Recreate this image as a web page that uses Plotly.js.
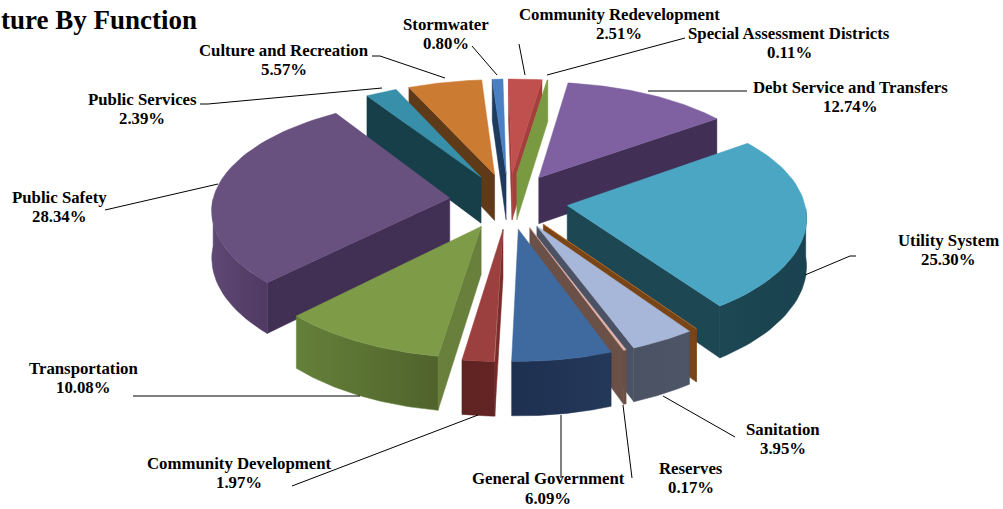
<!DOCTYPE html>
<html>
<head>
<meta charset="utf-8">
<script src="https://cdn.plot.ly/plotly-3.0.1.min.js"></script>
<style>html,body{margin:0;padding:0;background:#fff;overflow:hidden}#c{width:1003px;height:509px}</style>
</head>
<body>
<div id="c"></div>
<script>
// Data (clockwise from twelve o'clock)
const categories = ['Community Redevelopment','Special Assessment Districts','Debt Service and Transfers','Utility System','','Sanitation','Reserves','General Government','Community Development','Transportation','Public Safety','Public Services','Culture and Recreation','Stormwater'];
const percents = [2.51,0.11,12.74,25.30,0.03,3.95,0.17,6.09,1.97,10.08,28.34,2.39,5.57,0.80];

// Styles
const topColors  = ['#c0504d','#7f9f45','#7f60a1','#4aa6c3','#c8772f','#a7b7d9','#e2b3aa','#3f6a9f','#9b403e','#7e9b48','#68507f','#378fa9','#cc7b33','#4a80c2'];
const wallColors = ['#a33f3c','#7a9a42','#412f55','#1d4753','#7a4516','#4a5263','#6b5047','#1f3350','#7a2c2a','#697f3c','#412f54','#173f4a','#5e3a18','#1e3a5c'];
const rimColors  = [['#5f2322','#5f2322'],['#6c8a38','#6c8a38'],['#412f55','#412f55'],['#1d4753','#1a4250'],['#7a4516','#7a4516'],['#4a5263','#4d5566'],['#6b5047','#6b5047'],['#1e3050','#24385a'],['#5f2322','#632524'],['#65803a','#4f632b'],['#5f4873','#4f3a63'],['#173f4a','#173f4a'],['#5e3a18','#5e3a18'],['#1e3a5c','#1e3a5c']];

// Projection of the tilted pie
const cx=508.5, cy=201, Rx=237, Ry=111, PX=0.09, PY=0.11, DEPTH=47, PULL=0.25, ROT=-1.5, SKEW=-2.2;
function proj(u,v,h){const fx=1/(1-PX*v), f=1/(1-PY*v);return [cx+Rx*u*fx+SKEW*Math.min(v,0), cy+Ry*v*f+h*DEPTH*f];}

const total = percents.reduce((a,b)=>a+b,0);
const slices=[]; let cum=0;
percents.forEach((p,i)=>{
  const a0=(cum/total*360+ROT)*Math.PI/180; cum+=p;
  const a1=(cum/total*360+ROT)*Math.PI/180;
  slices.push({i,a0,a1,m:(a0+a1)/2});
});
function norm(a){a=a%(2*Math.PI);return a<0?a+2*Math.PI:a;}
slices.sort((s,t)=>Math.abs(norm(t.m)-Math.PI)-Math.abs(norm(s.m)-Math.PI));

const traces=[];
function poly(pts,color,grad){
  const t={type:'scatter',mode:'lines',x:pts.map(q=>q[0]),y:pts.map(q=>q[1]),line:{width:0.5,color:grad?grad[0]:color},fill:'toself',hoverinfo:'skip',showlegend:false};
  if(grad){t.fillgradient={type:'horizontal',colorscale:[[0,grad[0]],[1,grad[1]]]};}
  else t.fillcolor=color;
  traces.push(t);
}
slices.forEach(s=>{
  const u0=PULL*Math.sin(s.m), v0=-PULL*Math.cos(s.m);
  const rim=(a,h)=>proj(u0+Math.sin(a),v0-Math.cos(a),h);
  const ap=h=>proj(u0,v0,h);
  // radial walls
  if(Math.sin(s.a0)<0) poly([ap(0),rim(s.a0,0),rim(s.a0,1),ap(1),ap(0)],wallColors[s.i]);
  if(Math.sin(s.a1)>0) poly([ap(0),rim(s.a1,0),rim(s.a1,1),ap(1),ap(0)],wallColors[s.i]);
  // curved outer wall (front half only)
  const n=48, front=[];
  for(let k=0;k<=n;k++){const a=s.a0+(s.a1-s.a0)*k/n; if(Math.cos(a)<=0) front.push(a);}
  if(front.length>1){
    const pts=front.map(a=>rim(a,0)).concat(front.slice().reverse().map(a=>rim(a,1)));
    pts.push(pts[0]);
    poly(pts,null,rimColors[s.i]);
  }
  // top face
  const top=[ap(0)];
  for(let k=0;k<=n;k++) top.push(rim(s.a0+(s.a1-s.a0)*k/n,0));
  top.push(ap(0));
  poly(top,topColors[s.i]);
});

// Leader lines
const leaders=[
 [[472,46],[497,75]],[[519,44],[525,75]],[[685,38],[547,75]],[[372,56],[380,56],[445,78]],
 [[200,104],[208,104],[382,88]],[[648,91],[747,91]],[[805,275],[850,256],[856,256]],
 [[663,396],[735,437]],[[623,405],[632,478]],[[561,415],[561,478]],
 [[478,415],[292,486]],[[133,396],[360,396]],[[105,210],[218,184]]
];
leaders.forEach(l=>traces.push({type:'scatter',mode:'lines',x:l.map(q=>q[0]),y:l.map(q=>q[1]),line:{color:'#000',width:1},hoverinfo:'skip',showlegend:false}));

// Label placement (index into categories -> centre of the two lines)
const labelPos={0:[619,24],1:[789,43],2:[850,97],3:[948,250],5:[783,439],6:[691,478],7:[548,488.5],8:[239,473],9:[83,378],10:[59,207],11:[142,109],12:[284,60],13:[446,34]};
const FONT='"Liberation Serif","Times New Roman",serif';
const LINE=19.5;
const annotations=[];
Object.keys(labelPos).forEach(k=>{
  [[categories[k],-LINE/2],[percents[k].toFixed(2)+'%',LINE/2]].forEach(l=>annotations.push({
    x:labelPos[k][0],y:labelPos[k][1]+l[1],xref:'x',yref:'y',showarrow:false,xanchor:'center',yanchor:'middle',align:'center',
    text:'<b>'+l[0]+'</b>',font:{family:FONT,size:16.8,color:'#000'}
  }));
});
annotations.push({x:199,y:20,xref:'x',yref:'y',showarrow:false,xanchor:'right',yanchor:'middle',text:'<b>ture By Function</b>',font:{family:FONT,size:27,color:'#000'}});

Plotly.newPlot('c',traces,{
  width:1003,height:509,margin:{l:0,r:0,t:0,b:0},paper_bgcolor:'#fff',plot_bgcolor:'#fff',showlegend:false,
  xaxis:{range:[0,1003],visible:false,fixedrange:true},
  yaxis:{range:[509,0],visible:false,fixedrange:true},
  annotations
},{staticPlot:true,displayModeBar:false});
</script>
</body>
</html>
